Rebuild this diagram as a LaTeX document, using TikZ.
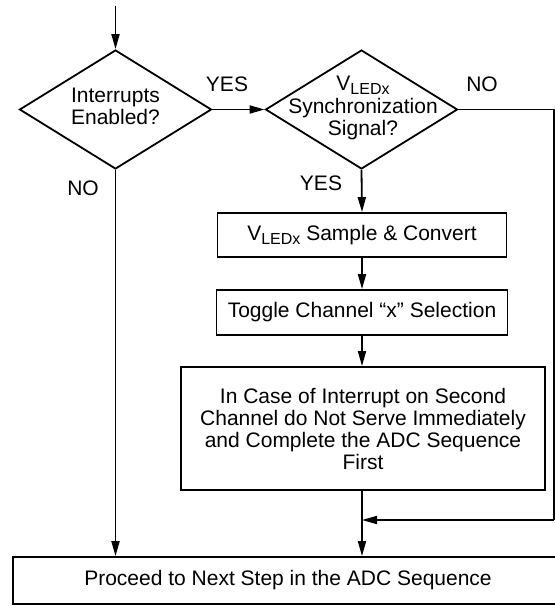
\documentclass[tikz,border=0pt]{standalone}
\usepackage{fontspec}
\setmainfont{Liberation Sans}
\usetikzlibrary{shapes.geometric,arrows.meta}
\newcommand{\vled}{V\raisebox{-4pt}{\fontsize{16}{16}\selectfont LEDx}}
\tikzset{
  txt/.style={font=\fontsize{21}{22}\selectfont,align=center,inner sep=0pt},
  box/.style={draw,line width=1.8pt,inner sep=0pt,txt},
  decision/.style={diamond,draw,line width=1.8pt,inner sep=0pt,minimum width=192pt,minimum height=119pt},
  ln/.style={line width=1.8pt},
  arr/.style={ln,-{Triangle[length=15pt,width=8pt]}}
}
\begin{document}
\begin{tikzpicture}[x=1pt,y=-1pt]
\useasboundingbox (0,0) rectangle (555,606);
\clip (0,0) rectangle (555,606);
\coordinate (start) at (115.5,6);
\node[decision] (int) at (115.5,109.5) {};
\node[txt] (intT) at (115.5,106.5) {Interrupts\\Enabled?};
\node[decision] (sync) at (361.5,109.5) {};
\node[txt] (syncT) at (363,108) {\vled\\[1pt]Synchronization\\Signal?};
\node[box,minimum width=289pt,minimum height=44pt] (conv) at (362,235) {\vled{} Sample \& Convert};
\node[box,minimum width=291pt,minimum height=45pt] (tog) at (362,312.5) {Toggle Channel \textquotedblleft x\textquotedblright{} Selection};
\node[box,minimum width=364pt,minimum height=123pt] (case) at (363,428.5) {In Case of Interrupt on Second\\Channel do Not Serve Immediately\\and Complete the ADC Sequence\\First};
\node[box,minimum width=550pt,minimum height=47pt] (next) at (288,580.5) {Proceed to Next Step in the ADC Sequence};
\node[txt] (yesA) at (227,84) {YES};
\node[txt] (noA) at (482,84) {NO};
\node[txt] (yesB) at (321,183) {YES};
\node[txt] (noB) at (83,188) {NO};
\coordinate (ret) at (554,520);
\draw[arr] (start) -- (int.north);
\draw[arr] (int.east) -- (sync.west);
\draw[arr] (sync.south) -- (conv.north);
\draw[arr] (conv.south) -- (tog.north);
\draw[arr] (tog.south) -- (tog.south |- case.north);
\draw[arr] (case.south -| tog.south) -- (tog.south |- next.north);
\draw[arr] (int.south) -- (int.south |- next.north);
\draw[ln] (sync.east) -| (ret);
\draw[arr] (ret) -- (ret -| tog.south);
\end{tikzpicture}
\end{document}
